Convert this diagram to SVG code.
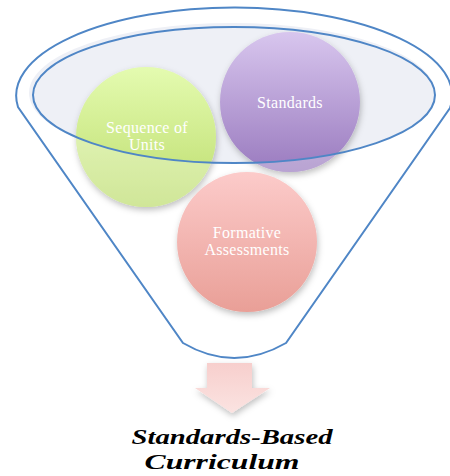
<svg xmlns="http://www.w3.org/2000/svg" width="450" height="476" viewBox="0 0 450 476">
<defs>
<style>
.lbl{font-family:"Liberation Serif","DejaVu Serif",serif;font-size:16px;letter-spacing:0.3px;fill:#ffffff;text-anchor:middle}
.title{font-family:"Liberation Serif","DejaVu Serif",serif;font-size:22px;font-weight:bold;font-style:italic;fill:#000000;text-anchor:middle}
.line{fill:none;stroke:#4f86c6;stroke-width:2}
</style>
<linearGradient id="gGreen" x1="0" y1="0" x2="0" y2="1">
<stop offset="0" stop-color="#e4fbb0"/><stop offset="1" stop-color="#bcdc6c"/>
</linearGradient>
<linearGradient id="gPurple" x1="0" y1="0" x2="0" y2="1">
<stop offset="0" stop-color="#d8c6ee"/><stop offset="1" stop-color="#9a7bbf"/>
</linearGradient>
<linearGradient id="gPink" x1="0" y1="0" x2="0" y2="1">
<stop offset="0" stop-color="#fccbca"/><stop offset="1" stop-color="#e99f97"/>
</linearGradient>
<linearGradient id="gArrow" x1="0" y1="0" x2="0" y2="1">
<stop offset="0" stop-color="#f7cfcd"/><stop offset="1" stop-color="#fbe3e1"/>
</linearGradient>
<filter id="sh" x="-20%" y="-20%" width="150%" height="150%">
<feDropShadow dx="1" dy="3" stdDeviation="3" flood-color="#000" flood-opacity="0.25"/>
</filter>
<clipPath id="outside">
<path clip-rule="evenodd" d="M0,0H450V476H0Z M33,95 A201,68 0 1 0 435,95 A201,68 0 1 0 33,95Z"/>
</clipPath>
</defs>

<g id="funnel">
<path class="line" d="M18,107 A218,88 0 1 1 450,108 L286,343 Q234,373 183,343 Z"/>
<ellipse cx="232" cy="93" rx="203" ry="70" fill="#eef0f6"/>
</g>

<g id="node-sequence" filter="url(#sh)">
<circle cx="146" cy="137" r="70" fill="url(#gGreen)"/>
</g>
<g id="node-standards" filter="url(#sh)">
<circle cx="290" cy="102" r="70" fill="url(#gPurple)"/>
</g>
<g id="fade" clip-path="url(#outside)">
<circle cx="146" cy="137" r="70" fill="#ffffff" opacity="0.3"/>
<circle cx="290" cy="102" r="70" fill="#ffffff" opacity="0.3"/>
</g>
<g id="inner-rim">
<ellipse class="line" cx="234" cy="95" rx="201" ry="68"/>
</g>
<g id="node-formative" filter="url(#sh)">
<circle cx="247" cy="242" r="70" fill="url(#gPink)"/>
</g>

<g id="labels">
<text class="lbl" x="290" y="108">Standards</text>
<text class="lbl" x="147" y="133">Sequence of</text>
<text class="lbl" x="147" y="150">Units</text>
<text class="lbl" x="247" y="238">Formative</text>
<text class="lbl" x="247" y="255">Assessments</text>
</g>

<g id="connectors">
<path d="M207,363 H252 V388 H270 L232,413 L195,388 H207 Z" fill="url(#gArrow)" filter="url(#sh)"/>
</g>

<g id="result">
<text class="title" x="232" y="444" textLength="201" lengthAdjust="spacingAndGlyphs">Standards-Based</text>
<text class="title" x="222" y="469" textLength="155" lengthAdjust="spacingAndGlyphs">Curriculum</text>
</g>
</svg>
